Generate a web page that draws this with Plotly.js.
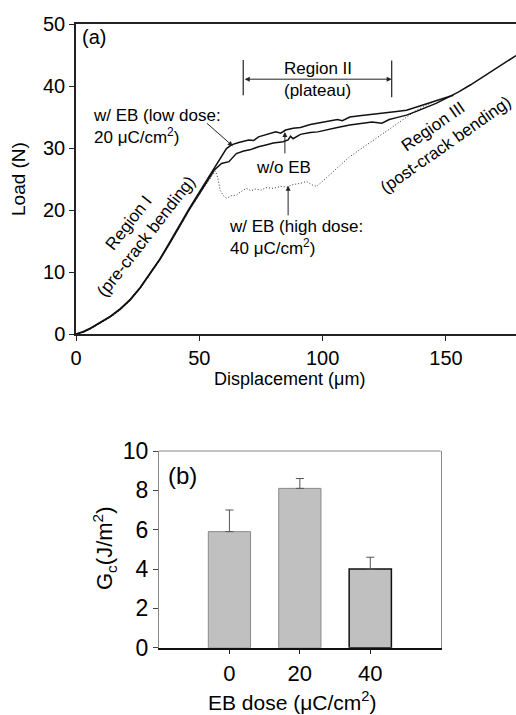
<!DOCTYPE html>
<html>
<head>
<meta charset="utf-8">
<script src="https://cdn.plot.ly/plotly-3.0.1.min.js"></script>
<style>html,body{margin:0;padding:0;background:#fff;}#chart{width:516px;height:715px;}</style>
</head>
<body>
<div id="chart"></div>
<script>
// ---- Panel (a): load-displacement curves ----
const lowDoseX = [0,3,6,10,14,18,22,26,30,34,38,42,46,50,54,57,59,61,63,66,70,72,74,77,81,83,85,88,91,95,98,102,106,108,111,115,120,125,130,134,138,142,146,150,153];
const lowDoseY = [0,0.4,1.0,1.9,2.9,4.1,5.6,7.5,9.7,12.1,14.8,17.6,20.3,22.9,25.4,27.5,28.7,29.9,30.5,30.9,31.3,31.2,31.8,32.1,32.6,32.4,32.9,33.2,33.3,33.8,34.0,34.3,34.6,34.4,35.0,35.2,35.4,35.6,35.9,36.1,36.6,37.1,37.7,38.2,38.5];

const noEbX = [0,3,6,10,14,18,22,26,30,34,38,42,46,50,54,56,59,62,65,68,70.5,74,77,80,84,86,87,88,91,95,98,102,106,111,115,120,124,127,130,134,138,142,146,150,155,160,165,170,175,178.4];
const noEbY = [0,0.3,0.9,1.8,2.8,4.0,5.5,7.4,9.6,12.0,14.6,17.4,20.1,22.6,25.1,26.4,27.5,27.8,29.1,29.5,29.7,30.2,30.5,30.8,31.0,31.3,31.9,31.5,32.2,32.5,32.6,33.0,33.3,33.7,33.9,34.2,34.0,34.6,34.9,35.3,35.9,36.5,37.2,38.0,39.0,40.2,41.5,42.8,44.0,44.9];

const highDoseX = [0,3,6,10,14,18,22,26,30,34,38,42,46,50,53,55,56.5,57.5,58.4,60,61.1,63,65,67,69,71,73,75,77,80,83,85.4,88,91,93.5,96,97.6,111,124.6,138.1,146.2,150];
const highDoseY = [0,0.3,0.8,1.7,2.7,3.9,5.4,7.3,9.5,11.9,14.5,17.3,20.0,22.5,24.3,25.6,26.3,25.2,23.2,22.2,21.9,22.3,22.4,23.0,23.5,23.1,23.4,23.2,23.6,23.5,23.8,23.7,24.1,24.3,24.6,24.0,23.8,28.6,32.4,36.1,37.7,38.2];

const xTicksA = [0, 50, 100, 150];
const yTicksA = [0, 10, 20, 30, 40, 50];
const regionII = [67.8, 128];   // plateau limits (µm)

// ---- Panel (b): critical energy release rate ----
const doses = ["0", "20", "40"];
const gc = [5.9, 8.1, 4.0];
const gcErr = [1.1, 0.5, 0.6];
const yTicksB = [0, 2, 4, 6, 8, 10];

const FONT = "Liberation Sans, Arial, Helvetica, sans-serif";

const traces = [
  {x: highDoseX, y: highDoseY, type: "scatter", mode: "lines", xaxis: "x", yaxis: "y",
   line: {color: "#333", width: 1, dash: "1px,2px"}, hoverinfo: "skip"},
  {x: noEbX, y: noEbY, type: "scatter", mode: "lines", xaxis: "x", yaxis: "y",
   line: {color: "#111", width: 1.5}, hoverinfo: "skip"},
  {x: lowDoseX, y: lowDoseY, type: "scatter", mode: "lines", xaxis: "x", yaxis: "y",
   line: {color: "#111", width: 1.5}, hoverinfo: "skip"},
  {x: doses, y: gc, type: "bar", xaxis: "x2", yaxis: "y2", width: 0.6,
   marker: {color: "#c0c0c0", line: {color: ["#8a8a8a", "#8a8a8a", "#111"], width: [1, 1, 1.5]}},
   error_y: {type: "data", symmetric: false, array: gcErr, arrayminus: [0, 0, 0],
             color: "#555", thickness: 1, width: 4}, hoverinfo: "skip"}
];

const tf = (s) => ({family: FONT, size: s, color: "#000"});

const layout = {
  width: 516, height: 715,
  margin: {l: 0, r: 0, t: 0, b: 0},
  paper_bgcolor: "#fff", plot_bgcolor: "#fff",
  showlegend: false,
  font: {family: FONT, color: "#000"},
  xaxis: {domain: [76/516, 1], anchor: "y", range: [0, 178.4],
          tickmode: "array", tickvals: xTicksA, ticktext: xTicksA.map(String),
          ticks: "outside", ticklen: 5, tickwidth: 1.2, tickcolor: "#222",
          showline: true, linecolor: "#222", linewidth: 1.5, mirror: true,
          showgrid: false, zeroline: false, tickfont: tf(20)},
  yaxis: {domain: [1 - 334/715, 1 - 24/715], anchor: "x", range: [0, 50],
          tickmode: "array", tickvals: yTicksA, ticktext: yTicksA.map(String),
          ticks: "outside", ticklen: 5, tickwidth: 1.2, tickcolor: "#222",
          showline: true, linecolor: "#222", linewidth: 1.5,
          showgrid: false, zeroline: false, tickfont: tf(20)},
  xaxis2: {domain: [159/516, 440.7/516], anchor: "y2", type: "category", range: [-1, 3],
           ticks: "outside", ticklen: 5, tickwidth: 1.2, tickcolor: "#222",
           showline: true, linecolor: "#111", linewidth: 1.5,
           showgrid: false, zeroline: false, tickfont: tf(22)},
  yaxis2: {domain: [1 - 647.7/715, 1 - 451/715], anchor: "x2", range: [0, 10],
           tickmode: "array", tickvals: yTicksB, ticktext: yTicksB.map(String),
           ticks: "outside", ticklen: 5, tickwidth: 1.2, tickcolor: "#444",
           showline: true, linecolor: "#888", linewidth: 1.2, mirror: true,
           showgrid: false, zeroline: false, tickfont: tf(23)},
  shapes: [
    {type: "line", xref: "x", yref: "y", x0: regionII[0], x1: regionII[0], y0: 38.5, y1: 44.2,
     line: {color: "#222", width: 1.2}},
    {type: "line", xref: "x", yref: "y", x0: regionII[1], x1: regionII[1], y0: 38.2, y1: 44.1,
     line: {color: "#222", width: 1.2}},
    {type: "line", xref: "paper", yref: "paper", x0: 159/516, x1: 440.7/516, y0: 1 - 451/715, y1: 1 - 451/715,
     line: {color: "#888", width: 1.2}}
  ],
  annotations: [
    // axis titles
    {xref: "paper", yref: "paper", x: 19/516, y: 1 - 179/715, text: "Load (N)", textangle: -90,
     showarrow: false, font: tf(19), xanchor: "center", yanchor: "middle"},
    {xref: "paper", yref: "paper", x: 289/516, y: 1 - 379/715, text: "Displacement (\u03bcm)",
     showarrow: false, font: tf(18), xanchor: "center", yanchor: "middle"},
    {xref: "paper", yref: "paper", x: 104/516, y: 1 - 549/715, text: "G<sub>c</sub>(J/m<sup>2</sup>)", textangle: -90,
     showarrow: false, font: tf(22), xanchor: "center", yanchor: "middle"},
    {xref: "paper", yref: "paper", x: 292/516, y: 1 - 701/715, text: "EB dose (\u03bcC/cm<sup>2</sup>)",
     showarrow: false, font: tf(21), xanchor: "center", yanchor: "middle"},
    // panel labels
    {xref: "paper", yref: "paper", x: 80/516, y: 1 - 37/715, text: "(a)", showarrow: false,
     font: tf(20), xanchor: "left", yanchor: "middle"},
    {xref: "paper", yref: "paper", x: 166/516, y: 1 - 475/715, text: "(b)", showarrow: false,
     font: tf(24), xanchor: "left", yanchor: "middle"},
    // Region II
    {xref: "x", yref: "y", x: regionII[1], y: 41.1, ax: regionII[0], ay: 41.1, axref: "x", ayref: "y",
     text: "", showarrow: true, arrowside: "end+start", arrowhead: 2, arrowsize: 1, arrowwidth: 1, arrowcolor: "#222",
     standoff: 0, startstandoff: 0},
    {xref: "x", yref: "y", x: 98, y: 42.8, text: "Region II", showarrow: false, font: tf(17),
     xanchor: "center", yanchor: "middle"},
    {xref: "x", yref: "y", x: 98, y: 39.2, text: "(plateau)", showarrow: false, font: tf(17),
     xanchor: "center", yanchor: "middle"},
    // Region I / III
    {xref: "x", yref: "y", x: 25, y: 16.8, text: "Region I<br>(pre-crack bending)", textangle: -52,
     showarrow: false, font: tf(17), xanchor: "center", yanchor: "middle"},
    {xref: "x", yref: "y", x: 147.5, y: 32.0, text: "Region III<br>(post-crack bending)", textangle: -35,
     showarrow: false, font: tf(17), xanchor: "center", yanchor: "middle"},
    // curve labels
    {xref: "x", yref: "y", x: 6.1, y: 33.5, text: "w/ EB (low dose:<br>20 \u03bcC/cm<sup>2</sup>)", align: "left",
     showarrow: false, font: tf(17), xanchor: "left", yanchor: "middle"},
    {xref: "x", yref: "y", x: 63.6, y: 30.3, ax: 52.5, ay: 34.2, axref: "x", ayref: "y", text: "",
     showarrow: true, arrowhead: 2, arrowsize: 1, arrowwidth: 1, arrowcolor: "#222", standoff: 0},
    {xref: "x", yref: "y", x: 84, y: 26.9, text: "w/o EB", showarrow: false, font: tf(17),
     xanchor: "center", yanchor: "middle"},
    {xref: "x", yref: "y", x: 84.7, y: 32.6, ax: 84.7, ay: 28.9, axref: "x", ayref: "y", text: "",
     showarrow: true, arrowhead: 2, arrowsize: 1, arrowwidth: 1, arrowcolor: "#222", standoff: 0},
    {xref: "x", yref: "y", x: 61.2, y: 15.5, text: "w/ EB (high dose:<br>40 \u03bcC/cm<sup>2</sup>)", align: "left",
     showarrow: false, font: tf(17), xanchor: "left", yanchor: "middle"},
    {xref: "x", yref: "y", x: 86, y: 23.9, ax: 86, ay: 18.9, axref: "x", ayref: "y", text: "",
     showarrow: true, arrowhead: 2, arrowsize: 1, arrowwidth: 1, arrowcolor: "#222", standoff: 0}
  ]
};

Plotly.newPlot("chart", traces, layout, {displayModeBar: false});
</script>
</body>
</html>
